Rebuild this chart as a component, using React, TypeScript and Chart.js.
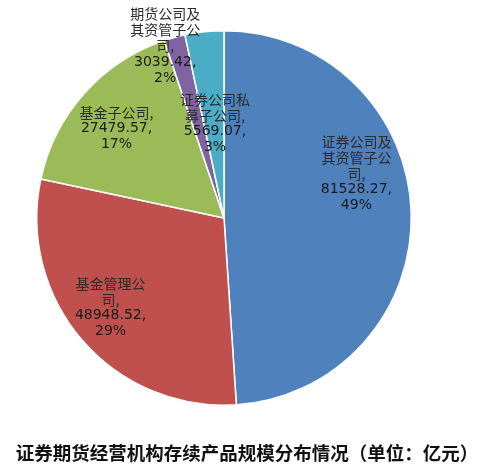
import React, { useEffect, useRef } from "react";
import { Chart, registerables } from "chart.js";

Chart.register(...registerables);

const CATEGORIES = [
  "证券公司及其资管子公司",
  "基金管理公司",
  "基金子公司",
  "期货公司及其资管子公司",
  "证券公司私募子公司",
];
const VALUES = [81528.27, 48948.52, 27479.57, 3039.42, 5569.07];
const PERCENTS = ["49%", "29%", "17%", "2%", "3%"];
// how each category name wraps in the label box
const NAME_LINES = [
  ["证券公司及", "其资管子公", "司,"],
  ["基金管理公", "司,"],
  ["基金子公司,"],
  ["期货公司及", "其资管子公", "司,"],
  ["证券公司私", "募子公司,"],
];
const COLORS = ["#4F81BD", "#C0504D", "#9BBB59", "#8064A2", "#4BACC6"];
const TITLE = "证券期货经营机构存续产品规模分布情况（单位：亿元）";

// label anchor offsets, in units of pie radius, relative to pie centre
const LABEL_OFFSETS = [
  [0.707, -0.237],
  [-0.606, 0.479],
  [-0.574, -0.479],
  [-0.314, -0.918],
  [-0.048, -0.503],
];

const W = 481;
const H = 475;

const labelPlugin = {
  id: "sliceLabels",
  afterDraw(chart: any) {
    const ctx = chart.ctx;
    const meta = chart.getDatasetMeta(0);
    ctx.save();
    ctx.textAlign = "center";
    ctx.textBaseline = "middle";
    meta.data.forEach((arc: any, i: number) => {
      const r = arc.outerRadius;
      const ax = arc.x + LABEL_OFFSETS[i][0] * r;
      const ay = arc.y + LABEL_OFFSETS[i][1] * r;
      const lines = [
        ...NAME_LINES[i],
        VALUES[i].toFixed(2) + ",",
        PERCENTS[i],
      ];
      const lh = 16;
      lines.forEach((ln, k) => {
        const y = ay + (k - (lines.length - 1) / 2) * lh;
        const isCjk = /[\u4e00-\u9fff]/.test(ln);
        ctx.fillStyle = isCjk ? "#2b2b2b" : "#1a1a1a";
        ctx.font = isCjk
          ? "14px 'Noto Sans CJK SC', sans-serif"
          : "14px 'DejaVu Sans', sans-serif";
        ctx.fillText(ln, ax, y);
      });
    });
    // title
    ctx.fillStyle = "#111";
    ctx.font = "bold 18.5px 'Noto Sans CJK SC', sans-serif";
    ctx.fillText(TITLE, 247, 453);
    ctx.restore();
  },
};

export default function App() {
  const ref = useRef<HTMLCanvasElement | null>(null);
  useEffect(() => {
    if (!ref.current) return;
    const chart = new Chart(ref.current, {
      type: "pie",
      data: {
        labels: CATEGORIES,
        datasets: [
          {
            data: VALUES,
            backgroundColor: COLORS,
            borderColor: "#ffffff",
            borderWidth: 1.5,
          },
        ],
      },
      options: {
        responsive: false,
        animation: false,
        layout: { padding: { left: 36, top: 30, right: 69, bottom: 69 } },
        plugins: {
          legend: { display: false },
          tooltip: { enabled: false },
          title: { display: false },
        },
      },
      plugins: [labelPlugin],
    });
    return () => chart.destroy();
  }, []);
  return (
    <div
      style={{
        position: "fixed",
        left: 0,
        top: 0,
        width: W,
        height: H,
        background: "#fff",
      }}
    >
      <canvas ref={ref} width={W} height={H} style={{ width: W, height: H }} />
    </div>
  );
}
